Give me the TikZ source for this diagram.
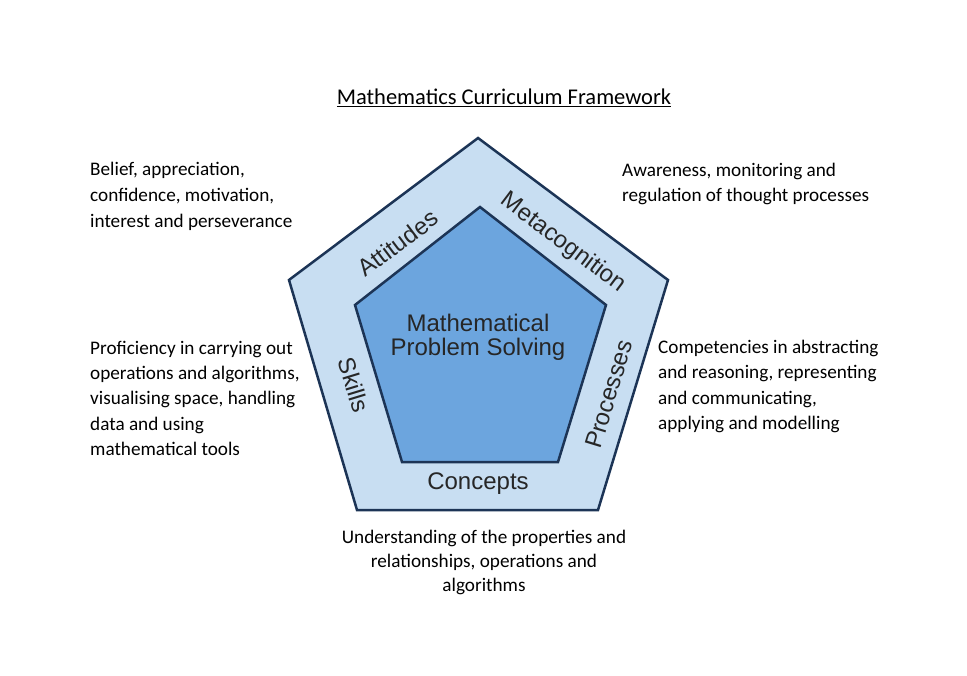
\documentclass[tikz,border=0pt]{standalone}
\usepackage{fontspec}
\setmainfont{Carlito}
\newfontfamily\arialf{Liberation Sans}
\begin{document}
\begin{tikzpicture}[x=1pt,y=-1pt,
  desc/.style={font=\fontsize{19.2}{19}\selectfont,anchor=base west,inner sep=0},
  descc/.style={font=\fontsize{19.2}{19}\selectfont,anchor=base,inner sep=0},
  plab/.style={font=\arialf\fontsize{24}{24}\selectfont,inner sep=0,text=black!85}]
\useasboundingbox[fill=white] (0,0) rectangle (967,676);
\definecolor{outerc}{RGB}{200,222,242}
\definecolor{innerc}{RGB}{108,165,222}
\definecolor{edgec}{RGB}{28,52,86}
\coordinate (o1) at (478,138); \coordinate (o2) at (668,280); \coordinate (o3) at (598,510);
\coordinate (o4) at (357,510); \coordinate (o5) at (289,280);
\coordinate (i1) at (480,207); \coordinate (i2) at (606,305); \coordinate (i3) at (558,462);
\coordinate (i4) at (402,462); \coordinate (i5) at (355,305);
\draw[edgec,line width=2.5pt,fill=outerc,line join=miter] (o1)--(o2)--(o3)--(o4)--(o5)--cycle;
\draw[edgec,line width=2.5pt,fill=innerc,line join=miter] (i1)--(i2)--(i3)--(i4)--(i5)--cycle;
\node[font=\fontsize{22.5}{22}\selectfont,anchor=base,inner sep=0] (title) at (504,105) {\underline{Mathematics Curriculum Framework}};
\node[plab] (c1) at (478,323) {Mathematical};
\node[plab] (c2) at (478,349) {Problem Solving};
\node[plab,rotate=37] (att) at (398,243) {Attitudes};
\node[plab,rotate=-37] (meta) at (563,243) {Metacognition};
\node[plab,rotate=-73] (sk) at (354,385) {Skills};
\node[plab,rotate=73] (pr) at (609,394) {Processes};
\node[plab] (con) at (478,484) {Concepts};
\node[desc] (a1) at (90,176) {Belief, appreciation,};
\node[desc] (a2) at (90,202) {confidence, motivation,};
\node[desc] (a3) at (90,228) {interest and perseverance};
\node[desc] (m1) at (622,177) {Awareness, monitoring and};
\node[desc] (m2) at (622,202) {regulation of thought processes};
\node[desc] (s1) at (90,355) {Proficiency in carrying out};
\node[desc] (s2) at (90,380) {operations and algorithms,};
\node[desc] (s3) at (90,405) {visualising space, handling};
\node[desc] (s4) at (90,430) {data and using};
\node[desc] (s5) at (90,455) {mathematical tools};
\node[desc] (p1) at (658,354) {Competencies in abstracting};
\node[desc] (p2) at (658,379) {and reasoning, representing};
\node[desc] (p3) at (658,404) {and communicating,};
\node[desc] (p4) at (658,429) {applying and modelling};
\node[descc] (k1) at (484,543) {Understanding of the properties and};
\node[descc] (k2) at (484,567) {relationships, operations and};
\node[descc] (k3) at (484,591) {algorithms};
\end{tikzpicture}
\end{document}
